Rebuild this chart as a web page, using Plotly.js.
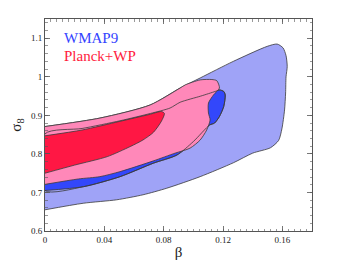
<!DOCTYPE html>
<html><head><meta charset="utf-8">
<script src="https://cdn.plot.ly/plotly-3.0.1.min.js"></script>
<style>body{margin:0;padding:0;background:#fff}#chart{width:345px;height:260px}</style>
</head><body><div id="chart"></div>
<script>
// WMAP9 2-sigma (outer, light blue)
const wmap2Beta  = [0, 0.0371, 0.0709, 0.0911, 0.1046, 0.1269, 0.1498, 0.1565, 0.1605, 0.1625, 0.1633, 0.1625, 0.1622, 0.1615, 0.1597, 0.1575, 0.152, 0.140, 0.127, 0.1046, 0.0821, 0.0661, 0.0484, 0.0258, 0];
const wmap2Sigma = [0.871, 0.893, 0.927, 0.971, 0.997, 1.040, 1.079, 1.085, 1.075, 1.055, 1.027, 1.000, 0.958, 0.914, 0.865, 0.835, 0.816, 0.802, 0.777, 0.741, 0.711, 0.694, 0.681, 0.672, 0.655];
// WMAP9 1-sigma (dark blue)
const wmap1Beta  = [0, 0.025, 0.0506, 0.0711, 0.0843, 0.0911, 0.105, 0.1147, 0.1176, 0.1205, 0.1215, 0.1205, 0.1176, 0.1143, 0.111, 0.100, 0.0889, 0.0731, 0.0506, 0.026, 0];
const wmap1Sigma = [0.852, 0.866, 0.886, 0.905, 0.919, 0.934, 0.950, 0.962, 0.966, 0.962, 0.953, 0.923, 0.897, 0.880, 0.875, 0.832, 0.797, 0.776, 0.741, 0.715, 0.705];
// Planck+WP 2-sigma (pink)
const planck2Beta  = [0, 0.0371, 0.0709, 0.0911, 0.0945, 0.1046, 0.1125, 0.1158, 0.1176, 0.1136, 0.1102, 0.1102, 0.1113, 0.109, 0.1046, 0.0978, 0.0877, 0.0731, 0.0506, 0.037, 0.0225, 0];
const planck2Sigma = [0.871, 0.893, 0.927, 0.971, 0.979, 0.992, 0.993, 0.990, 0.971, 0.953, 0.932, 0.906, 0.888, 0.862, 0.836, 0.815, 0.802, 0.782, 0.754, 0.741, 0.735, 0.721];
// Planck+WP 1-sigma (red)
const planck1Beta  = [0, 0.025, 0.05, 0.07, 0.0785, 0.0805, 0.0785, 0.0731, 0.066, 0.0574, 0.042, 0.02, 0];
const planck1Sigma = [0.847, 0.862, 0.884, 0.902, 0.910, 0.905, 0.885, 0.856, 0.836, 0.819, 0.793, 0.771, 0.750];

const xTicks = [0, 0.04, 0.08, 0.12, 0.16];
const xTickText = ['0', '0.04', '0.08', '0.12', '0.16'];
const yTicks = [0.6, 0.7, 0.8, 0.9, 1.0, 1.1];
const yTickText = ['0.6', '0.7', '0.8', '0.9', '1', '1.1'];

const edge = {color: '#3a3a3a', width: 0.8, shape: 'spline', smoothing: 0.7};
function poly(x, y, fill) {
  return {x: x, y: y, type: 'scatter', mode: 'lines', fill: 'toself', fillcolor: fill,
          line: edge, hoverinfo: 'skip', showlegend: false};
}
const traces = [
  poly(wmap2Beta, wmap2Sigma, '#9fa3f7'),
  poly(wmap1Beta, wmap1Sigma, '#3347fb'),
  poly(planck2Beta, planck2Sigma, '#ff88b9'),
  poly(planck1Beta, planck1Sigma, '#ff1744'),
  {x: wmap1Beta.concat([wmap1Beta[0]]), y: wmap1Sigma.concat([wmap1Sigma[0]]), type: 'scatter', mode: 'lines',
   line: edge, hoverinfo: 'skip', showlegend: false}
];
const serif = '"Liberation Serif", "Times New Roman", serif';
const axisCommon = {
  showgrid: false, zeroline: false, showline: true, linecolor: '#555', linewidth: 1,
  mirror: 'allticks', ticks: 'inside', ticklen: 5, tickcolor: '#555', tickwidth: 0.8,
  tickfont: {family: serif, size: 9, color: '#222'}
};
const layout = {
  width: 345, height: 260,
  margin: {l: 45, r: 33, t: 19, b: 29},
  paper_bgcolor: '#fff', plot_bgcolor: '#fff',
  font: {family: serif},
  xaxis: Object.assign({}, axisCommon, {
    range: [0, 0.18], tickmode: 'array', tickvals: xTicks, ticktext: xTickText,
    minor: {dtick: 0.004, ticks: 'inside', ticklen: 2.5, tickcolor: '#555', tickwidth: 0.6},
    title: {text: 'β', font: {family: serif, size: 15, color: '#222'}, standoff: 2}
  }),
  yaxis: Object.assign({}, axisCommon, {
    range: [0.6, 1.15], tickmode: 'array', tickvals: yTicks, ticktext: yTickText,
    minor: {dtick: 0.02, ticks: 'inside', ticklen: 2.5, tickcolor: '#555', tickwidth: 0.6},
    title: {text: 'σ<sub>8</sub>', font: {family: serif, size: 15, color: '#222'}, standoff: 5}
  }),
  annotations: [
    {x: 0.0115, y: 1.101, xref: 'x', yref: 'y', xanchor: 'left', yanchor: 'middle', showarrow: false,
     text: 'WMAP9', font: {family: serif, size: 15, color: '#3344ff'}},
    {x: 0.0115, y: 1.054, xref: 'x', yref: 'y', xanchor: 'left', yanchor: 'middle', showarrow: false,
     text: 'Planck+WP', font: {family: serif, size: 15, color: '#ff1a3c'}}
  ]
};
Plotly.newPlot('chart', traces, layout, {displayModeBar: false, staticPlot: true});
</script></body></html>
